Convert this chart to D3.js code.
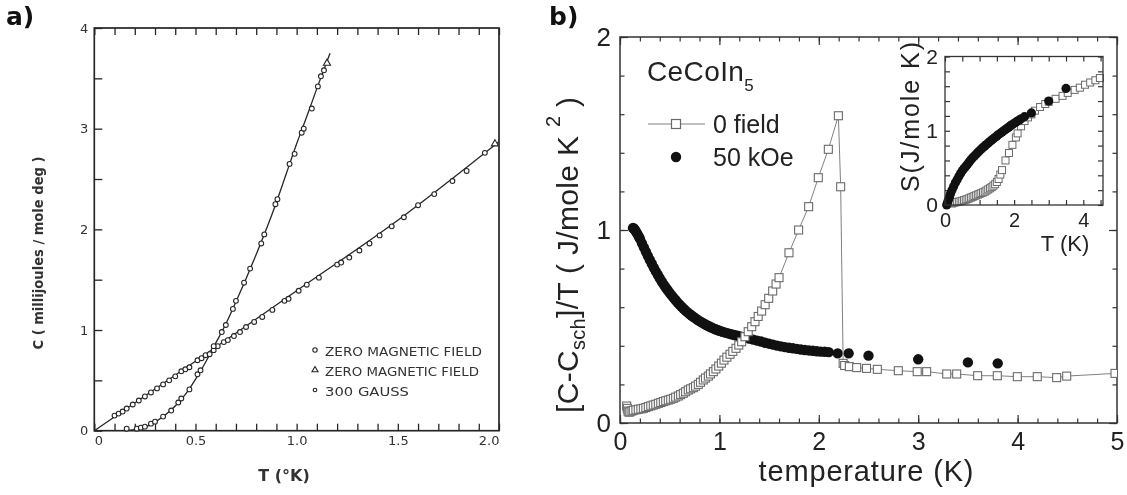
<!DOCTYPE html>
<html>
<head>
<meta charset="utf-8">
<script src="https://cdn.jsdelivr.net/npm/d3@7"></script>
<style>
  html, body { margin: 0; padding: 0; background: #fff; }
  svg { display: block; }
</style>
</head>
<body>
<svg id="fig" width="1127" height="495"></svg>
<script>
// ---------- Panel (a): C vs T, aluminium-type superconductor ----------
// zero-field run, open circles [T (°K), C (mJ/mole deg)]
const aZeroField = [
  [0.16,0.02],[0.21,0.02],[0.23,0.03],[0.25,0.04],[0.28,0.07],[0.30,0.09],
  [0.34,0.14],[0.38,0.20],[0.415,0.28],[0.43,0.32],[0.47,0.41],[0.51,0.56],
  [0.525,0.60],[0.57,0.76],[0.59,0.84],[0.63,0.98],[0.65,1.05],[0.685,1.21],
  [0.70,1.29],[0.74,1.47],[0.77,1.61],[0.825,1.86],[0.84,1.95],[0.895,2.25],
  [0.905,2.30],[0.965,2.65],[0.99,2.75],[1.025,2.96],[1.035,3.00],[1.075,3.20],
  [1.105,3.42],[1.12,3.52],[1.135,3.58]
];
// zero-field run, triangles
const aZeroFieldTri = [[1.15,3.65],[1.98,2.85]];
// 300 gauss run, open circles
const a300G = [
  [0.10,0.15],[0.12,0.17],[0.14,0.19],[0.16,0.22],[0.19,0.26],[0.22,0.30],
  [0.25,0.34],[0.28,0.38],[0.31,0.42],[0.34,0.46],[0.37,0.50],[0.40,0.54],
  [0.43,0.59],[0.45,0.61],[0.47,0.63],[0.51,0.70],[0.53,0.72],[0.55,0.75],
  [0.59,0.80],[0.61,0.84],[0.64,0.88],[0.66,0.90],[0.69,0.94],[0.72,0.98],
  [0.75,1.03],[0.79,1.08],[0.83,1.13],[0.88,1.20],[0.94,1.29],[0.96,1.31],
  [1.01,1.39],[1.05,1.45],[1.11,1.52],[1.20,1.65],[1.22,1.67],[1.26,1.72],
  [1.31,1.79],[1.36,1.86],[1.41,1.94],[1.47,2.03],[1.53,2.12],[1.60,2.24],
  [1.68,2.35],[1.77,2.48],[1.84,2.58],[1.93,2.76]
];
// drawn curves through each data set
const aCurveZero = [
  [0.15,0],[0.2,0.01],[0.25,0.035],[0.3,0.085],[0.35,0.155],[0.4,0.245],
  [0.45,0.36],[0.5,0.51],[0.55,0.68],[0.6,0.87],[0.65,1.06],[0.7,1.28],
  [0.75,1.51],[0.8,1.75],[0.85,2.0],[0.9,2.27],[0.95,2.56],[1.0,2.85],
  [1.05,3.12],[1.1,3.40],[1.165,3.75]
];
const aCurve300G = [[0,0],[0.5,0.69],[1.0,1.39],[1.5,2.09],[2.0,2.87]];
const aTickLabelsX = [0, 0.5, 1.0, 1.5, 2.0];
const aTickLabelsY = [0, 1, 2, 3, 4];
const aLegend = ["ZERO MAGNETIC FIELD", "ZERO MAGNETIC FIELD", "300 GAUSS"];

// ---------- Panel (b): CeCoIn5 ----------
// 0 field, open squares [T (K), (C - C_Sch)/T]
const bZeroField = [
  [0.067,0.088],[0.074,0.076],[0.08,0.062],[0.09,0.056],[0.10,0.058],[0.12,0.062],
  [0.134,0.066],[0.16,0.068],[0.184,0.071],[0.21,0.073],[0.235,0.076],[0.26,0.080],
  [0.285,0.085],[0.31,0.089],[0.335,0.093],[0.36,0.097],[0.386,0.102],[0.41,0.106],
  [0.436,0.111],[0.46,0.115],[0.486,0.119],[0.51,0.123],[0.537,0.128],[0.56,0.134],
  [0.587,0.140],[0.61,0.147],[0.637,0.154],[0.66,0.162],[0.687,0.171],[0.71,0.177],
  [0.738,0.183],[0.76,0.191],[0.788,0.200],[0.81,0.211],[0.838,0.223],[0.86,0.233],
  [0.889,0.243],[0.91,0.254],[0.939,0.266],[0.965,0.280],[0.993,0.295],[1.02,0.310],
  [1.046,0.326],[1.075,0.341],[1.107,0.356],[1.135,0.371],[1.167,0.387],[1.195,0.404],
  [1.224,0.421],[1.257,0.447],[1.29,0.473],[1.325,0.499],[1.358,0.525],[1.39,0.552],
  [1.425,0.580],[1.46,0.613],[1.496,0.646],[1.536,0.684],[1.57,0.720],[1.60,0.753],
  [1.70,0.882],[1.797,1.00],[1.898,1.121],[1.995,1.271],[2.096,1.418],[2.197,1.592],
  [2.22,1.224],[2.245,0.309],[2.26,0.298],[2.307,0.292],[2.381,0.287],[2.48,0.283],
  [2.589,0.278],[2.80,0.271],[2.99,0.266],[3.085,0.266],[3.287,0.254],[3.387,0.254],
  [3.598,0.245],[3.796,0.245],[3.997,0.240],[4.198,0.240],[4.393,0.235],[4.494,0.243],
  [4.98,0.257]
];
// 50 kOe, filled circles
const b50kOe = [
  [0.13,1.010],[0.14,1.008],[0.15,1.000],[0.16,0.992],[0.175,0.980],[0.19,0.965],
  [0.20,0.955],[0.22,0.932],[0.24,0.910],[0.26,0.888],[0.28,0.866],[0.30,0.845],
  [0.32,0.825],[0.34,0.805],[0.36,0.786],[0.38,0.768],[0.40,0.750],[0.42,0.733],
  [0.44,0.717],[0.46,0.702],[0.48,0.688],[0.50,0.674],[0.52,0.661],[0.54,0.648],
  [0.56,0.636],[0.58,0.624],[0.60,0.613],[0.62,0.602],[0.64,0.592],[0.66,0.582],
  [0.68,0.573],[0.70,0.565],[0.72,0.557],[0.74,0.549],[0.76,0.542],[0.78,0.535],
  [0.80,0.528],[0.82,0.522],[0.84,0.516],[0.86,0.510],[0.88,0.505],[0.90,0.500],
  [0.92,0.495],[0.94,0.490],[0.96,0.486],[0.98,0.482],[1.00,0.478],[1.03,0.473],
  [1.06,0.468],[1.09,0.464],[1.12,0.460],[1.15,0.456],[1.18,0.452],[1.21,0.448],
  [1.24,0.445],[1.27,0.442],[1.30,0.438],[1.34,0.432],[1.38,0.427],[1.42,0.422],
  [1.46,0.416],[1.50,0.411],[1.54,0.406],[1.58,0.401],[1.62,0.397],[1.66,0.393],
  [1.70,0.390],[1.74,0.387],[1.78,0.384],[1.82,0.381],[1.86,0.378],[1.90,0.376],
  [1.94,0.374],[1.98,0.372],[2.02,0.370],[2.06,0.369],[2.10,0.367],
  [2.19,0.361],[2.30,0.361],[2.50,0.349],[3.00,0.330],[3.50,0.314],[3.80,0.309]
];
const bTickLabelsX = [0, 1, 2, 3, 4, 5];
const bTickLabelsY = [0, 1, 2];

// inset: entropy S (J/mole K) vs T (K)
const insetTMax = 4.57;
const sZeroField = [
  [0.20,0.02],[0.25,0.03],[0.30,0.035],[0.35,0.04],[0.40,0.045],[0.45,0.05],
  [0.50,0.057],[0.55,0.065],[0.60,0.072],[0.65,0.08],[0.70,0.09],[0.75,0.10],
  [0.80,0.11],[0.85,0.12],[0.90,0.13],[0.95,0.14],[1.00,0.15],[1.05,0.16],
  [1.10,0.17],[1.15,0.18],[1.20,0.195],[1.25,0.21],[1.30,0.225],[1.35,0.24],
  [1.40,0.26],[1.45,0.28],[1.50,0.31],[1.55,0.35],[1.60,0.41],[1.65,0.47],
  [1.75,0.60],[1.85,0.70],[1.95,0.81],[2.05,0.91],[2.10,0.965],[2.20,1.06],
  [2.30,1.13],[2.40,1.18],[2.50,1.22],[2.60,1.27],[2.75,1.32],[2.90,1.36],
  [3.00,1.39],[3.20,1.43],[3.40,1.47],[3.55,1.51],[3.75,1.55],[3.90,1.58],
  [4.05,1.62],[4.20,1.65],[4.35,1.68],[4.48,1.71]
];
const s50kOe = [
  [0.05,0.0],[0.07,0.03],[0.10,0.07],[0.13,0.11],[0.16,0.15],[0.20,0.20],
  [0.25,0.25],[0.30,0.30],[0.35,0.34],[0.40,0.385],[0.45,0.425],[0.50,0.46],
  [0.55,0.49],[0.60,0.52],[0.65,0.55],[0.70,0.58],[0.75,0.608],[0.80,0.635],
  [0.85,0.66],[0.90,0.685],[0.95,0.708],[1.00,0.73],[1.05,0.753],[1.10,0.775],
  [1.15,0.795],[1.20,0.815],[1.25,0.835],[1.30,0.855],[1.35,0.874],[1.40,0.893],
  [1.45,0.912],[1.50,0.93],[1.55,0.948],[1.60,0.965],[1.65,0.983],[1.70,1.00],
  [1.75,1.018],[1.80,1.035],[1.85,1.052],[1.90,1.068],[1.95,1.084],[2.00,1.10],
  [2.05,1.115],[2.10,1.13],[2.15,1.145],[2.20,1.16],[2.30,1.19],
  [2.50,1.24],[3.00,1.40],[3.50,1.57]
];
const insetTickLabelsX = [0, 2, 4];
const insetTickLabelsY = [0, 1, 2];

// ---------- drawing ----------
const svg = d3.select("#fig");
const defs = svg.append("defs");
defs.append("filter").attr("id", "scan")
  .append("feGaussianBlur").attr("stdDeviation", 0.45);

function stripDomain(g) { g.select(".domain").remove(); }

// ===== panel (a) =====
const xA = d3.scaleLinear().domain([0, 2]).range([94.3, 499]);
const yA = d3.scaleLinear().domain([0, 4]).range([430.7, 28]);
const inkA = "#262626";
const fontA = "'DejaVu Sans', sans-serif";

const gA = svg.append("g").attr("filter", "url(#scan)");

gA.append("rect")
  .attr("x", xA(0)).attr("y", yA(4))
  .attr("width", xA(2) - xA(0)).attr("height", yA(0) - yA(4))
  .attr("fill", "none").attr("stroke", inkA).attr("stroke-width", 1.7);

const tickStyleA = g => { stripDomain(g); g.attr("color", inkA).selectAll("line").attr("stroke-width", 1.3); };
gA.append("g").attr("transform", `translate(0,${yA(0)})`)
  .call(d3.axisBottom(xA).tickValues(xA.ticks(20)).tickSizeInner(-7).tickSizeOuter(0).tickFormat(""))
  .call(tickStyleA);
gA.append("g").attr("transform", `translate(0,${yA(4)})`)
  .call(d3.axisTop(xA).tickValues(xA.ticks(20)).tickSizeInner(-7).tickSizeOuter(0).tickFormat(""))
  .call(tickStyleA);
gA.append("g").attr("transform", `translate(${xA(0)},0)`)
  .call(d3.axisLeft(yA).tickValues(yA.ticks(8)).tickSizeInner(-8).tickSizeOuter(0).tickFormat(""))
  .call(tickStyleA);

// tick labels
const axLabAX = gA.append("g").attr("transform", `translate(0,${yA(0)})`)
  .call(d3.axisBottom(xA).tickValues(aTickLabelsX).tickSize(0).tickPadding(5)
    .tickFormat(d => d === 0 ? "0" : d.toFixed(1)))
  .call(stripDomain)
  .attr("font-family", fontA).attr("font-size", 13).attr("color", "#333");
axLabAX.selectAll("text")
  .attr("text-anchor", (d, i, n) => i === 0 ? "start" : (i === n.length - 1 ? "end" : "middle"));
gA.append("g").attr("transform", `translate(${xA(0)},0)`)
  .call(d3.axisLeft(yA).tickValues(aTickLabelsY).tickSize(0).tickPadding(6).tickFormat(d3.format("d")))
  .call(stripDomain)
  .attr("font-family", fontA).attr("font-size", 13).attr("color", "#333");

// axis titles
gA.append("text")
  .attr("transform", "translate(43,253) rotate(-90)")
  .attr("text-anchor", "middle")
  .attr("font-family", fontA).attr("font-size", 14).attr("font-weight", "bold")
  .attr("fill", "#333")
  .attr("textLength", 193).attr("lengthAdjust", "spacingAndGlyphs")
  .text("C ( millijoules / mole deg )");
gA.append("text")
  .attr("x", 284).attr("y", 481).attr("text-anchor", "middle")
  .attr("font-family", fontA).attr("font-size", 16).attr("font-weight", "bold")
  .attr("fill", "#333")
  .text("T (°K)");

// curves
const lineA = d3.line().x(d => xA(d[0])).y(d => yA(d[1])).curve(d3.curveMonotoneX);
gA.append("path").attr("d", lineA(aCurve300G))
  .attr("fill", "none").attr("stroke", inkA).attr("stroke-width", 1.3);
gA.append("path").attr("d", lineA(aCurveZero))
  .attr("fill", "none").attr("stroke", inkA).attr("stroke-width", 1.3);

// markers
const circA = (g, data) => g.selectAll(null).data(data).enter().append("circle")
  .attr("cx", d => xA(d[0])).attr("cy", d => yA(d[1])).attr("r", 2.4)
  .attr("fill", "#fff").attr("stroke", inkA).attr("stroke-width", 1.1);
circA(gA.append("g"), a300G);
circA(gA.append("g"), aZeroField);
const triSym = d3.symbol().type(d3.symbolTriangle).size(22);
gA.append("g").selectAll("path").data(aZeroFieldTri).enter().append("path")
  .attr("transform", d => `translate(${xA(d[0])},${yA(d[1])})`)
  .attr("d", triSym())
  .attr("fill", "#fff").attr("stroke", inkA).attr("stroke-width", 1.1);

// legend
const legA = gA.append("g").attr("font-family", fontA).attr("font-size", 13).attr("fill", "#333");
const legRowsA = [351, 371, 391];
const legWidthsA = [157, 154, 84];
aLegend.forEach((label, i) => {
  if (i === 1) {
    legA.append("path").attr("transform", `translate(315,${legRowsA[i] - 1})`)
      .attr("d", d3.symbol().type(d3.symbolTriangle).size(16)())
      .attr("fill", "#fff").attr("stroke", inkA).attr("stroke-width", 1.1);
  } else {
    legA.append("circle").attr("cx", 315).attr("cy", legRowsA[i] - 1).attr("r", i === 2 ? 1.8 : 2.2)
      .attr("fill", "#fff").attr("stroke", inkA).attr("stroke-width", 1.1);
  }
  legA.append("text").attr("x", 325).attr("y", legRowsA[i] + 5)
    .attr("textLength", legWidthsA[i]).attr("lengthAdjust", "spacingAndGlyphs")
    .text(label);
});

// panel letters
svg.append("text").attr("x", 6).attr("y", 25)
  .attr("font-family", "'DejaVu Sans', sans-serif").attr("font-weight", "bold")
  .attr("font-size", 25).attr("fill", "#111").text("a)");
svg.append("text").attr("x", 549).attr("y", 25)
  .attr("font-family", "'DejaVu Sans', sans-serif").attr("font-weight", "bold")
  .attr("font-size", 25).attr("fill", "#111").text("b)");

// ===== panel (b) =====
const xB = d3.scaleLinear().domain([0, 5]).range([620, 1117]);
const yB = d3.scaleLinear().domain([0, 2]).range([423, 37]);
const inkB = "#222";
const fontB = "'Liberation Sans', Arial, sans-serif";
const sqColor = "#6a6a6a";

const gB = svg.append("g").attr("font-family", fontB).attr("fill", inkB);

defs.append("clipPath").attr("id", "plotB").append("rect")
  .attr("x", xB(0)).attr("y", yB(2)).attr("width", xB(5) - xB(0)).attr("height", yB(0) - yB(2));

const tickStyleB = g => { stripDomain(g); g.attr("color", "#333").selectAll("line").attr("stroke-width", 1.2); };
// minor + major ticks on all four sides
[[xB.ticks(20), 4.5], [xB.ticks(5), 8]].forEach(([vals, len]) => {
  gB.append("g").attr("transform", `translate(0,${yB(0)})`)
    .call(d3.axisBottom(xB).tickValues(vals).tickSizeInner(-len).tickSizeOuter(0).tickFormat("")).call(tickStyleB);
  gB.append("g").attr("transform", `translate(0,${yB(2)})`)
    .call(d3.axisTop(xB).tickValues(vals).tickSizeInner(-len).tickSizeOuter(0).tickFormat("")).call(tickStyleB);
});
[[yB.ticks(10), 4.5], [yB.ticks(2), 8]].forEach(([vals, len]) => {
  gB.append("g").attr("transform", `translate(${xB(0)},0)`)
    .call(d3.axisLeft(yB).tickValues(vals).tickSizeInner(-len).tickSizeOuter(0).tickFormat("")).call(tickStyleB);
  gB.append("g").attr("transform", `translate(${xB(5)},0)`)
    .call(d3.axisRight(yB).tickValues(vals).tickSizeInner(-len).tickSizeOuter(0).tickFormat("")).call(tickStyleB);
});
gB.append("rect")
  .attr("x", xB(0)).attr("y", yB(2)).attr("width", xB(5) - xB(0)).attr("height", yB(0) - yB(2))
  .attr("fill", "none").attr("stroke", "#333").attr("stroke-width", 1.5);

// tick labels
gB.append("g").attr("transform", `translate(0,${yB(0)})`)
  .call(d3.axisBottom(xB).tickValues(bTickLabelsX).tickSize(0).tickPadding(9).tickFormat(d3.format("d")))
  .call(stripDomain)
  .attr("font-family", fontB).attr("font-size", 25).attr("color", inkB);
gB.append("g").attr("transform", `translate(${xB(0)},0)`)
  .call(d3.axisLeft(yB).tickValues(bTickLabelsY).tickSize(0).tickPadding(9).tickFormat(d3.format("d")))
  .call(stripDomain)
  .attr("font-family", fontB).attr("font-size", 26).attr("color", inkB);

// axis titles
gB.append("text")
  .attr("x", 866).attr("y", 481).attr("text-anchor", "middle")
  .attr("font-size", 29).attr("textLength", 215).attr("lengthAdjust", "spacing")
  .text("temperature (K)");
const yTitle = gB.append("text")
  .attr("transform", "translate(578,255) rotate(-90)")
  .attr("text-anchor", "middle").attr("font-size", 30)
  .attr("textLength", 316).attr("lengthAdjust", "spacing");
yTitle.append("tspan").text("[C-C");
yTitle.append("tspan").attr("font-size", 20).attr("dy", 7).text("sch");
yTitle.append("tspan").attr("dy", -7).text("]/T ( J/mole K ");
yTitle.append("tspan").attr("font-size", 20).attr("dy", -18).text("2");
yTitle.append("tspan").attr("dy", 18).text(" )");

// data
const dataB = gB.append("g").attr("clip-path", "url(#plotB)");
dataB.append("g").selectAll("circle").data(b50kOe).enter().append("circle")
  .attr("cx", d => xB(d[0])).attr("cy", d => yB(d[1])).attr("r", 5.2)
  .attr("fill", "#111");
const lineB = d3.line().x(d => xB(d[0])).y(d => yB(d[1]));
dataB.append("path").attr("d", lineB(bZeroField))
  .attr("fill", "none").attr("stroke", "#808080").attr("stroke-width", 1);
const sq = 8;
dataB.append("g").selectAll("rect").data(bZeroField).enter().append("rect")
  .attr("x", d => xB(d[0]) - sq / 2).attr("y", d => yB(d[1]) - sq / 2)
  .attr("width", sq).attr("height", sq)
  .attr("fill", "#fff").attr("stroke", sqColor).attr("stroke-width", 1.1);

// legend
gB.append("text").attr("x", 647).attr("y", 81).attr("font-size", 28)
  .attr("letter-spacing", 0.4)
  .text("CeCoIn")
  .append("tspan").attr("font-size", 17).attr("dy", 10).attr("letter-spacing", 0).text("5");
gB.append("line").attr("x1", 648).attr("x2", 705).attr("y1", 124).attr("y2", 124)
  .attr("stroke", "#808080").attr("stroke-width", 1.2);
gB.append("rect").attr("x", 676 - 4.5).attr("y", 124 - 4.5).attr("width", 9).attr("height", 9)
  .attr("fill", "#fff").attr("stroke", sqColor).attr("stroke-width", 1.2);
gB.append("text").attr("x", 713).attr("y", 133).attr("font-size", 25).text("0 field");
gB.append("circle").attr("cx", 676).attr("cy", 157).attr("r", 5.2).attr("fill", "#111");
gB.append("text").attr("x", 713).attr("y", 166).attr("font-size", 25).text("50 kOe");

// ===== inset =====
const xI = d3.scaleLinear().domain([0, insetTMax]).range([945, 1103]);
const yI = d3.scaleLinear().domain([0, 2]).range([205, 56.5]);
const gI = gB.append("g");
gI.append("rect").attr("x", xI(0)).attr("y", yI(2))
  .attr("width", xI(insetTMax) - xI(0)).attr("height", yI(0) - yI(2))
  .attr("fill", "#fff");
gI.append("g").attr("transform", `translate(0,${yI(0)})`)
  .call(d3.axisBottom(xI).tickValues(xI.ticks(10)).tickSizeInner(-5).tickSizeOuter(0).tickFormat("")).call(tickStyleB);
gI.append("g").attr("transform", `translate(0,${yI(2)})`)
  .call(d3.axisTop(xI).tickValues(xI.ticks(10)).tickSizeInner(-5).tickSizeOuter(0).tickFormat("")).call(tickStyleB);
gI.append("g").attr("transform", `translate(${xI(0)},0)`)
  .call(d3.axisLeft(yI).tickValues(yI.ticks(8)).tickSizeInner(-5).tickSizeOuter(0).tickFormat("")).call(tickStyleB);
gI.append("g").attr("transform", `translate(${xI(insetTMax)},0)`)
  .call(d3.axisRight(yI).tickValues(yI.ticks(8)).tickSizeInner(-5).tickSizeOuter(0).tickFormat("")).call(tickStyleB);

gI.append("g").selectAll("rect").data(sZeroField).enter().append("rect")
  .attr("x", d => xI(d[0]) - 3.5).attr("y", d => yI(d[1]) - 3.5)
  .attr("width", 7).attr("height", 7)
  .attr("fill", "#fff").attr("stroke", sqColor).attr("stroke-width", 1);
gI.append("g").selectAll("circle").data(s50kOe).enter().append("circle")
  .attr("cx", d => xI(d[0])).attr("cy", d => yI(d[1])).attr("r", 4.6)
  .attr("fill", "#111");

gI.append("rect").attr("x", xI(0)).attr("y", yI(2))
  .attr("width", xI(insetTMax) - xI(0)).attr("height", yI(0) - yI(2))
  .attr("fill", "none").attr("stroke", "#333").attr("stroke-width", 1.3);

gI.append("g").attr("transform", `translate(0,${yI(0)})`)
  .call(d3.axisBottom(xI).tickValues(insetTickLabelsX).tickSize(0).tickPadding(8).tickFormat(d3.format("d")))
  .call(stripDomain)
  .attr("font-family", fontB).attr("font-size", 20).attr("color", inkB);
gI.append("g").attr("transform", `translate(${xI(0)},0)`)
  .call(d3.axisLeft(yI).tickValues(insetTickLabelsY).tickSize(0).tickPadding(7).tickFormat(d3.format("d")))
  .call(stripDomain)
  .attr("font-family", fontB).attr("font-size", 21).attr("color", inkB);
gI.append("text").attr("x", 1065).attr("y", 251).attr("text-anchor", "middle")
  .attr("font-size", 22).text("T (K)");
gI.append("text").attr("transform", "translate(919,117) rotate(-90)")
  .attr("text-anchor", "middle").attr("font-size", 25)
  .attr("textLength", 150).attr("lengthAdjust", "spacing")
  .text("S(J/mole K)");
</script>
</body>
</html>
